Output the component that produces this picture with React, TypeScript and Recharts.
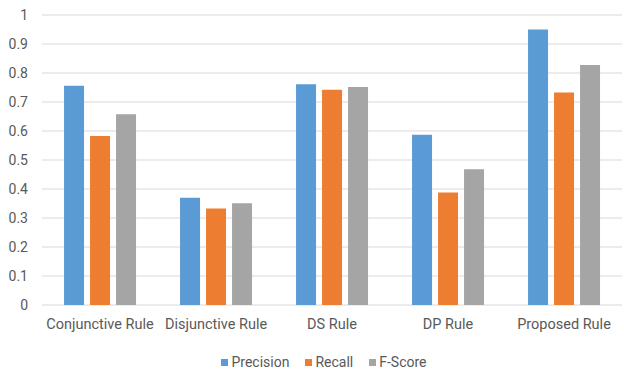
import { BarChart, Bar, XAxis, YAxis, CartesianGrid, Legend } from 'recharts';

const rules = ['Conjunctive Rule', 'Disjunctive Rule', 'DS Rule', 'DP Rule', 'Proposed Rule'];
const precision = [0.756, 0.37, 0.761, 0.587, 0.95];
const recall = [0.583, 0.333, 0.742, 0.388, 0.733];
const fScore = [0.658, 0.351, 0.752, 0.468, 0.828];
const yTicks = [0, 0.1, 0.2, 0.3, 0.4, 0.5, 0.6, 0.7, 0.8, 0.9, 1];

const series = [
  { key: 'Precision', color: '#5b9bd5' },
  { key: 'Recall', color: '#ed7d31' },
  { key: 'F-Score', color: '#a5a5a5' },
];

const data = rules.map((rule, i) => ({
  rule,
  Precision: precision[i],
  Recall: recall[i],
  'F-Score': fScore[i],
}));

const font = 'Roboto, "Open Sans", sans-serif';
const textColor = '#595959';

// legend row, nudged right so it sits under the middle of the plot area
function SeriesLegend() {
  return (
    <div style={{ display: 'flex', justifyContent: 'center', gap: 16, height: 20, lineHeight: '20px', alignItems: 'center', fontSize: 14, color: textColor, fontFamily: font, paddingLeft: 26, marginTop: 2 }}>
      {series.map((s) => (
        <span key={s.key} style={{ display: 'flex', alignItems: 'center', gap: 3 }}>
          <span style={{ width: 7, height: 7, background: s.color, display: 'inline-block' }} />
          {s.key}
        </span>
      ))}
    </div>
  );
}

export default function App() {
  return (
    <div style={{ position: 'absolute', left: 0, top: 0, width: 624, height: 371, background: '#fff', fontFamily: font }}>
      <BarChart
        width={624}
        height={371}
        data={data}
        margin={{ top: 15, right: 2, left: 0, bottom: 1 }}
        barCategoryGap="19%"
        barGap={6}
      >
        <CartesianGrid vertical={false} stroke="#d9d9d9" />
        <XAxis
          dataKey="rule"
          axisLine={false}
          tickLine={false}
          tickMargin={8}
          height={45}
          interval={0}
          tick={{ fill: textColor, fontSize: 14.5, fontFamily: font }}
        />
        <YAxis
          domain={[0, 1]}
          ticks={yTicks}
          axisLine={false}
          tickLine={false}
          width={42}
          tickMargin={8}
          tick={{ fill: textColor, fontSize: 14, fontFamily: font }}
        />
        <Legend verticalAlign="bottom" height={20} content={<SeriesLegend />} />
        {series.map((s) => (
          <Bar key={s.key} dataKey={s.key} fill={s.color} isAnimationActive={false} />
        ))}
      </BarChart>
    </div>
  );
}
